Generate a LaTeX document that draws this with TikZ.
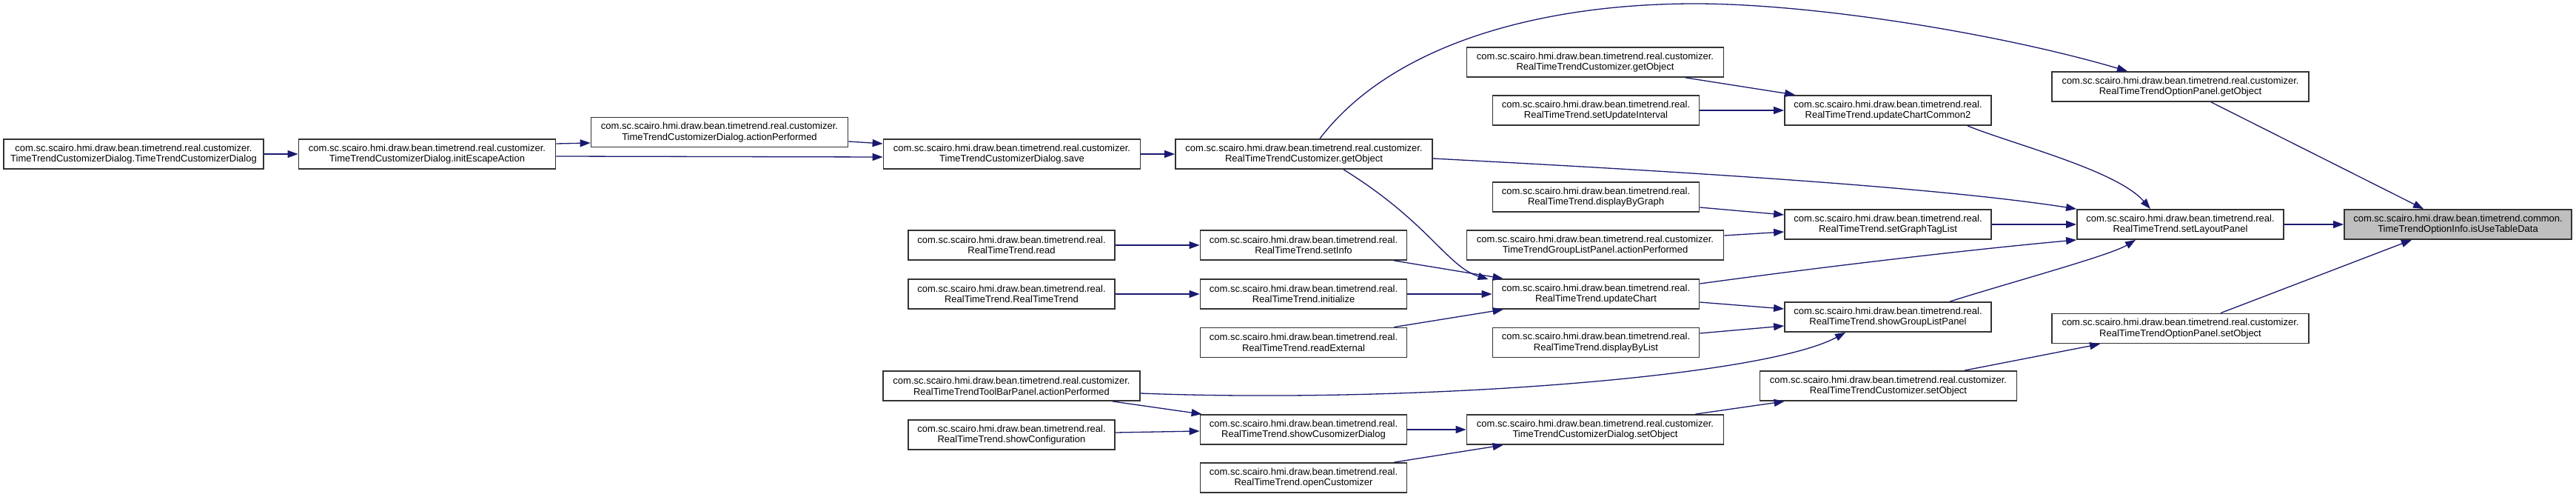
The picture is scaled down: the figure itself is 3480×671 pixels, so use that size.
\documentclass[tikz,border=0pt]{standalone}
\usepackage{fontspec}
\setmainfont{Liberation Sans}
\usetikzlibrary{arrows.meta}
\definecolor{edgecol}{HTML}{191970}
\definecolor{boxborder}{HTML}{333333}
\definecolor{hlfill}{HTML}{BFBFBF}
\begin{document}
\begin{tikzpicture}[x=1pt,y=-1pt,
  fn/.style={draw=boxborder, line width=1.8pt, fill=white, minimum height=40pt, inner sep=0pt, align=center, font=\fontsize{13}{14.7}\selectfont, text=black},
  cw/.style={minimum width=347pt},
  rw/.style={minimum width=279pt},
  call/.style={draw=edgecol, line width=1.3pt, -{Triangle[length=14pt,width=10pt]}}]
\useasboundingbox (0,0) rectangle (3480,671);
\fill[white] (0,0) rectangle (3480,671);
% column 1-4
\node[fn,minimum width=351pt] (n1) at (180.5,208) {com.sc.scairo.hmi.draw.bean.timetrend.real.customizer.\\TimeTrendCustomizerDialog.TimeTrendCustomizerDialog};
\node[fn,cw] (n2) at (577,208) {com.sc.scairo.hmi.draw.bean.timetrend.real.customizer.\\TimeTrendCustomizerDialog.initEscapeAction};
\node[fn,cw] (n3) at (972,178.5) {com.sc.scairo.hmi.draw.bean.timetrend.real.customizer.\\TimeTrendCustomizerDialog.actionPerformed};
\node[fn,cw] (n4) at (1367,208) {com.sc.scairo.hmi.draw.bean.timetrend.real.customizer.\\TimeTrendCustomizerDialog.save};
\node[fn,rw] (n13) at (1366.5,331) {com.sc.scairo.hmi.draw.bean.timetrend.real.\\RealTimeTrend.read};
\node[fn,rw] (n14) at (1366.5,397) {com.sc.scairo.hmi.draw.bean.timetrend.real.\\RealTimeTrend.RealTimeTrend};
\node[fn,cw] (n18) at (1366.5,521) {com.sc.scairo.hmi.draw.bean.timetrend.real.customizer.\\RealTimeTrendToolBarPanel.actionPerformed};
\node[fn,rw] (n19) at (1366.5,587) {com.sc.scairo.hmi.draw.bean.timetrend.real.\\RealTimeTrend.showConfiguration};
% column 5
\node[fn,cw] (n5) at (1761.5,208) {com.sc.scairo.hmi.draw.bean.timetrend.real.customizer.\\RealTimeTrendCustomizer.getObject};
\node[fn,rw] (n15) at (1761,331) {com.sc.scairo.hmi.draw.bean.timetrend.real.\\RealTimeTrend.setInfo};
\node[fn,rw] (n16) at (1761,397) {com.sc.scairo.hmi.draw.bean.timetrend.real.\\RealTimeTrend.initialize};
\node[fn,rw] (n17) at (1761,462.5) {com.sc.scairo.hmi.draw.bean.timetrend.real.\\RealTimeTrend.readExternal};
\node[fn,rw] (n20) at (1761,580) {com.sc.scairo.hmi.draw.bean.timetrend.real.\\RealTimeTrend.showCusomizerDialog};
\node[fn,rw] (n21) at (1761,645) {com.sc.scairo.hmi.draw.bean.timetrend.real.\\RealTimeTrend.openCustomizer};
% column 6
\node[fn,cw] (n6) at (2155,84) {com.sc.scairo.hmi.draw.bean.timetrend.real.customizer.\\RealTimeTrendCustomizer.getObject};
\node[fn,rw] (n7) at (2156,149) {com.sc.scairo.hmi.draw.bean.timetrend.real.\\RealTimeTrend.setUpdateInterval};
\node[fn,rw] (n8) at (2156,266) {com.sc.scairo.hmi.draw.bean.timetrend.real.\\RealTimeTrend.displayByGraph};
\node[fn,cw] (n9) at (2155,331) {com.sc.scairo.hmi.draw.bean.timetrend.real.customizer.\\TimeTrendGroupListPanel.actionPerformed};
\node[fn,rw] (n10) at (2156,397) {com.sc.scairo.hmi.draw.bean.timetrend.real.\\RealTimeTrend.updateChart};
\node[fn,rw] (n11) at (2156,462.5) {com.sc.scairo.hmi.draw.bean.timetrend.real.\\RealTimeTrend.displayByList};
\node[fn,cw] (n12) at (2155,580) {com.sc.scairo.hmi.draw.bean.timetrend.real.customizer.\\TimeTrendCustomizerDialog.setObject};
% column 7
\node[fn,rw] (n22) at (2550.5,149) {com.sc.scairo.hmi.draw.bean.timetrend.real.\\RealTimeTrend.updateChartCommon2};
\node[fn,rw] (n23) at (2550.5,303) {com.sc.scairo.hmi.draw.bean.timetrend.real.\\RealTimeTrend.setGraphTagList};
\node[fn,rw] (n24) at (2550.5,428) {com.sc.scairo.hmi.draw.bean.timetrend.real.\\RealTimeTrend.showGroupListPanel};
\node[fn,cw] (n25) at (2551,521) {com.sc.scairo.hmi.draw.bean.timetrend.real.customizer.\\RealTimeTrendCustomizer.setObject};
% column 8
\node[fn,cw] (n26) at (2945.5,117) {com.sc.scairo.hmi.draw.bean.timetrend.real.customizer.\\RealTimeTrendOptionPanel.getObject};
\node[fn,rw] (n27) at (2945.5,303) {com.sc.scairo.hmi.draw.bean.timetrend.real.\\RealTimeTrend.setLayoutPanel};
\node[fn,cw] (n28) at (2945.5,443.5) {com.sc.scairo.hmi.draw.bean.timetrend.real.customizer.\\RealTimeTrendOptionPanel.setObject};
% column 9
\node[fn,fill=hlfill,minimum width=307pt] (n29) at (3320.5,303) {com.sc.scairo.hmi.draw.bean.timetrend.common.\\TimeTrendOptionInfo.isUseTableData};
% edges
\draw[call] (n1.east) -- (n2.west);
\draw[call] ([yshift=14pt]n2.east) -- ([yshift=-14.5pt]n3.west);
\draw[call] ([yshift=-3pt]n2.east) -- ([yshift=-4pt]n4.west);
\draw[call] ([yshift=-12.5pt]n3.east) -- ([yshift=14pt]n4.west);
\draw[call] (n4.east) -- (n5.west);
\draw[call] ([xshift=21.5pt]n5.north) .. controls (1880,60) and (2080,5) .. (2290,5) .. controls (2450,5) and (2700,45) .. ([xshift=-71.5pt]n26.north);
\draw[call] ([yshift=-6pt]n5.east) .. controls (2200,228) and (2600,250) .. (n27.north west);
\draw[call] ([xshift=53.5pt]n5.south) .. controls (1930,300) and (1955,360) .. ([xshift=-5pt,yshift=-1pt]n10.north west);
\draw[call] ([xshift=122pt]n6.south) -- ([xshift=15pt]n22.north west);
\draw[call] (n7.east) -- (n22.west);
\draw[call] ([xshift=107.5pt]n22.south) .. controls (2720,195) and (2860,230) .. ([xshift=-40.5pt]n27.north);
\draw[call] ([xshift=41.5pt]n26.south) -- ([xshift=-46.5pt]n29.north);
\draw[call] ([yshift=-14pt]n8.east) -- ([yshift=13pt]n23.west);
\draw[call] ([yshift=13pt]n9.east) -- ([yshift=-10pt]n23.west);
\draw[call] (n23.east) -- (n27.west);
\draw[call] (n27.east) -- (n29.west);
\draw[call] ([yshift=14pt]n10.east) .. controls (2450,362) and (2650,338) .. (n27.south west);
\draw[call] ([yshift=-11pt]n10.east) -- ([yshift=11pt]n24.west);
\draw[call] ([yshift=12.5pt]n11.east) -- ([yshift=-12pt]n24.west);
\draw[call] ([xshift=83.5pt]n24.north) .. controls (2720,380) and (2850,345) .. ([xshift=-60.5pt]n27.south);
\draw[call] ([yshift=-10pt]n18.east) .. controls (1900,545) and (2380,510) .. ([xshift=-57.5pt]n24.south);
\draw[call] ([xshift=136.5pt]n18.south) -- ([xshift=3pt]n20.north west);
\draw[call] ([yshift=3pt]n19.east) -- ([yshift=-2pt]n20.west);
\draw[call] (n20.east) -- (n12.west);
\draw[call] ([xshift=-18pt]n21.north east) -- ([xshift=50pt]n12.south west);
\draw[call] ([xshift=-39pt]n12.north east) -- ([xshift=34pt]n25.south west);
\draw[call] ([xshift=103pt]n25.north) -- ([xshift=66pt]n28.south west);
\draw[call] ([xshift=54.5pt]n28.north) -- ([xshift=-62.5pt]n29.south);
\draw[call] (n13.east) -- (n15.west);
\draw[call] ([xshift=-18pt]n15.south east) -- ([xshift=15pt]n10.north west);
\draw[call] (n14.east) -- (n16.west);
\draw[call] (n16.east) -- (n10.west);
\draw[call] ([xshift=-18pt]n17.north east) -- ([xshift=15pt]n10.south west);
\end{tikzpicture}
\end{document}
